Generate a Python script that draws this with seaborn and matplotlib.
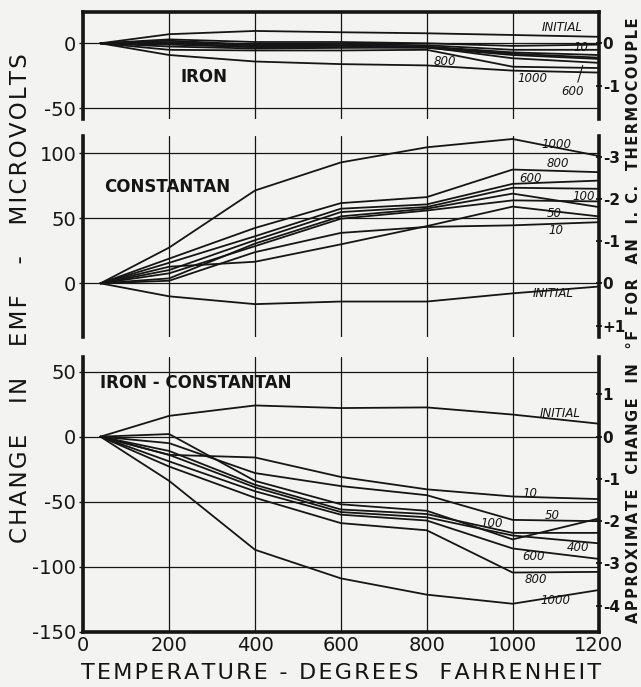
import numpy as np
import pandas as pd
import matplotlib
matplotlib.use("Agg")
import matplotlib.pyplot as plt
import seaborn as sns

# ---------------- data ----------------
TEMPS = [40, 200, 400, 600, 800, 1000, 1200]
SERIES = ["INITIAL", "10", "50", "100", "200", "400", "600", "800", "1000"]

iron_initial = [0, 7, 9.5, 8.5, 7.7, 6.4, 5]
iron_10 = [0, 3, 1, 1, 0, -2, -1]
iron_50 = [0, 2, -1, -0.5, -1.5, -5, -5]
iron_100 = [0, 1, -1.5, -1.5, -2.5, -7, -9]
iron_200 = [0, 0, -2.5, -2, -3, -8, -11]
iron_400 = [0, -1, -3, -3, -3.5, -9, -12]
iron_600 = [0, -2.5, -4, -3.5, -3, -11.5, -15]
iron_800 = [0, -5, -5.5, -5.5, -5, -18, -19]
iron_1000 = [0, -9, -14, -16, -17, -21, -22.5]

con_initial = [0, -10, -16, -14, -14, -7.7, -2.5]
con_10 = [0, 2, 24, 38.8, 43.4, 44.6, 47]
con_50 = [0, 12.8, 16.6, 30, 44, 59, 51.5]
con_100 = [0, 7.7, 28.6, 49.7, 56, 63.8, 63]
con_200 = [0, 3.8, 30.6, 51.5, 57.4, 69, 58.7]
con_400 = [0, 10.2, 33.2, 54.8, 58.7, 73.5, 72.7]
con_600 = [0, 15.8, 36.2, 57.4, 60.7, 76.5, 79]
con_800 = [0, 19, 42.6, 61.7, 66.3, 87.5, 85.5]
con_1000 = [0, 27.5, 71.4, 93, 104.6, 111, 98]

ic_initial = [0, 16, 24, 22, 22.5, 17, 10]
ic_10 = [0, -14, -16, -31, -40.5, -46, -48]
ic_50 = [0, -5, -28, -38, -45, -64, -65]
ic_100 = [0, 2, -34, -52, -57, -79, -63]
ic_200 = [0, -11, -37, -56, -59.5, -74, -74]
ic_400 = [0, -14, -39, -58, -62, -76, -82]
ic_600 = [0, -19, -42, -60, -64.5, -86, -94]
ic_800 = [0, -23, -47, -66.5, -72, -104.5, -104]
ic_1000 = [0, -34, -87, -109, -121.5, -128.5, -118]

X_TICKS = [0, 200, 400, 600, 800, 1000, 1200]
IRON_TICKS = [0, -50]
CON_TICKS = [100, 50, 0]
IC_TICKS = [50, 0, -50, -100, -150]
IRON_F_TICKS = [0, -1]
CON_F_TICKS = [-3, -2, -1, 0, 1]
CON_F_LABELS = ["-3", "-2", "-1", "0", "+1"]
IC_F_TICKS = [1, 0, -1, -2, -3, -4]
UV_PER_F = 32.5

panels = [
    ("IRON", [iron_initial, iron_10, iron_50, iron_100, iron_200,
              iron_400, iron_600, iron_800, iron_1000]),
    ("CONSTANTAN", [con_initial, con_10, con_50, con_100, con_200,
                    con_400, con_600, con_800, con_1000]),
    ("IRON - CONSTANTAN", [ic_initial, ic_10, ic_50, ic_100, ic_200,
                           ic_400, ic_600, ic_800, ic_1000]),
]


def long_frame(values):
    rows = []
    for name, vals in zip(SERIES, values):
        for t, v in zip(TEMPS, vals):
            rows.append({"temp": t, "emf": v, "series": name})
    return pd.DataFrame(rows)


def spaced(s, sep="\u200a"):
    return sep.join(s)


# ---------------- style ----------------
BG = "#f3f3f1"
INK = "#151515"
sns.set_theme(style="white")
plt.rcParams["font.family"] = ["DejaVu Sans"]
plt.rcParams["axes.unicode_minus"] = False

fig = plt.figure(figsize=(6.41, 6.87), dpi=100, facecolor=BG)

W, H = 641.0, 687.0
left_px, right_px = 83.3, 598.5
boxes = [(11.7, 119.0, (-58.2, 24.3)),
         (136.0, 337.3, (-41.5, 113.3)),
         (356.7, 631.7, (-150.0, 61.5))]

axes = []
for (top, bot, ylim) in boxes:
    ax = fig.add_axes([left_px / W, 1 - bot / H, (right_px - left_px) / W,
                       (bot - top) / H])
    ax.set_facecolor(BG)
    ax.set_ylim(*ylim)
    ax.set_xlim(0, 1200)
    axes.append(ax)

pal = {s: INK for s in SERIES}
yticks = [IRON_TICKS, CON_TICKS, IC_TICKS]
for i, (ax, (title, vals)) in enumerate(zip(axes, panels)):
    df = long_frame(vals)
    sns.lineplot(data=df, x="temp", y="emf", hue="series", palette=pal,
                 legend=False, ax=ax, linewidth=1.3, errorbar=None)
    ax.set_xlabel("")
    ax.set_ylabel("")
    ax.set_xticks(X_TICKS)
    ax.set_yticks(yticks[i])
    ax.grid(True, color=INK, linewidth=0.9)
    ax.set_axisbelow(True)
    for s in ax.spines.values():
        s.set_color(INK)
        s.set_linewidth(2.6)
    ax.spines["top"].set_visible(i == 0)
    ax.spines["bottom"].set_visible(i == 2)
    ax.tick_params(axis="y", left=True, length=3, width=1, color=INK,
                   labelsize=14, pad=2, labelcolor=INK)
    ax.tick_params(axis="x", bottom=False, length=0, labelsize=14,
                   labelcolor=INK, pad=3, labelbottom=(i == 2))

# secondary right axes (approximate °F change)
sec_specs = [
    (lambda v: v / UV_PER_F, lambda f: f * UV_PER_F, IRON_F_TICKS,
     [str(t) for t in IRON_F_TICKS]),
    (lambda v: -v / UV_PER_F, lambda f: -f * UV_PER_F, CON_F_TICKS,
     CON_F_LABELS),
    (lambda v: v / UV_PER_F, lambda f: f * UV_PER_F, IC_F_TICKS,
     [str(t) for t in IC_F_TICKS]),
]
for ax, (f, finv, ticks, labels) in zip(axes, sec_specs):
    sec = ax.secondary_yaxis("right", functions=(f, finv))
    sec.set_yticks(ticks)
    sec.set_yticklabels(labels, fontweight="bold")
    sec.spines["right"].set_visible(False)
    sec.tick_params(length=4, width=1.3, color=INK, labelsize=11,
                    labelcolor=INK, pad=1, direction="inout")

# panel titles
axes[0].text(281, -25.6, "IRON", fontsize=12, fontweight="bold",
             ha="center", va="center", color=INK)
axes[1].text(196, 74, "CONSTANTAN", fontsize=12, fontweight="bold",
             ha="center", va="center", color=INK)
axes[2].text(40, 41, "IRON - CONSTANTAN", fontsize=12, fontweight="bold",
             ha="left", va="center", color=INK)

# curve labels (hand lettering)
lab_kw = dict(fontsize=8.5, style="italic", color=INK, ha="center",
              va="center")
iron_labels = [("INITIAL", 1115, 12), ("10", 1160, -3.5), ("800", 843, -14),
               ("1000", 1045, -27), ("600", 1140, -37)]
con_labels = [("1000", 1101, 107), ("800", 1105, 92), ("600", 1041, 81),
              ("100", 1166, 67), ("50", 1097, 54), ("10", 1101, 41),
              ("INITIAL", 1094, -8)]
ic_labels = [("INITIAL", 1110, 18), ("10", 1041, -44), ("50", 1092, -61),
             ("100", 951, -67), ("400", 1153, -85), ("600", 1049, -92),
             ("800", 1055, -110), ("1000", 1100, -126)]
for ax, labs in zip(axes, [iron_labels, con_labels, ic_labels]):
    for txt, x, y in labs:
        ax.text(x, y, txt, **lab_kw)

axes[0].annotate("", xy=(1165, -15), xytext=(1150, -32),
                 arrowprops=dict(arrowstyle="-", color=INK, lw=0.8))

# axis titles
fig.text(21 / W, 1 - 298 / H,
         spaced("CHANGE   IN   EMF   -   MICROVOLTS"), rotation=90,
         fontsize=16.5, ha="center", va="center", color=INK)
fig.text(341 / W, 1 - 673 / H,
         spaced("TEMPERATURE - DEGREES  FAHRENHEIT"),
         fontsize=16, ha="center", va="center", color=INK)
fig.text(633 / W, 1 - 320 / H,
         spaced("APPROXIMATE  CHANGE  IN  °F  FOR  AN  I. C.  THERMOCOUPLE"),
         rotation=90, fontsize=10.5, fontweight="bold", ha="center",
         va="center", color=INK)

fig.savefig("out.png", dpi=100, facecolor=BG)
